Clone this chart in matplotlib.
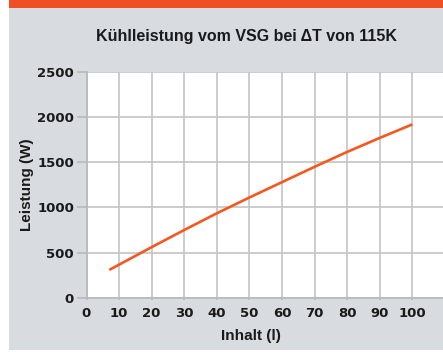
import matplotlib.pyplot as plt
from matplotlib.patches import Rectangle

# Kühlleistung über Inhalt
inhalt = [7, 10, 20, 30, 40, 50, 60, 70, 80, 90, 100]
leistung = [308, 366, 560, 750, 935, 1110, 1280, 1450, 1615, 1770, 1920]
x_ticks = [0, 10, 20, 30, 40, 50, 60, 70, 80, 90, 100]
y_ticks = [0, 500, 1000, 1500, 2000, 2500]

plt.rcParams['font.family'] = ['Liberation Sans', 'DejaVu Sans']
plt.rcParams['font.weight'] = 'bold'

W, H = 443, 352
fig = plt.figure(figsize=(W / 100, H / 100), dpi=100, facecolor='white')

# grauer Hintergrund und orangener Balken oben
fig.patches.append(Rectangle((9 / W, 2 / H), 1 - 9 / W, 343 / H, transform=fig.transFigure,
                             facecolor='#d8dce0', edgecolor='none', zorder=-5))
fig.patches.append(Rectangle((9 / W, 1 - 7.5 / H), 1 - 9 / W, 7.5 / H, transform=fig.transFigure,
                             facecolor='#f04e23', edgecolor='none', zorder=-5))

ax = fig.add_axes([86.5 / W, 54.3 / H, 1 - 86.5 / W, (297.7 - 72) / H], zorder=2)
ax.set_facecolor('white')
ax.plot(inhalt, leistung, color='#f4581e', linewidth=1.9, zorder=3, solid_capstyle='butt')

ax.set_xlim(0, 109.4)
ax.set_ylim(0, 2500)
ax.set_xticks(x_ticks)
ax.set_yticks(y_ticks)
ax.tick_params(axis='both', labelsize=9.5, colors='#b8b8b8', labelcolor='#1a1a1a', width=1.2)
ax.tick_params(axis='y', length=7, pad=2)
ax.tick_params(axis='x', length=1.5, pad=5)
for lbl in ax.get_xticklabels() + ax.get_yticklabels():
    lbl.set_fontfamily('DejaVu Sans')
ax.grid(True, color='#c4c4c4', linewidth=1.2)
ax.set_axisbelow(True)
for side in ['top', 'right']:
    ax.spines[side].set_visible(False)
for side in ['left', 'bottom']:
    ax.spines[side].set_color('#b8b8b8')
    ax.spines[side].set_linewidth(1.2)

ax.set_ylabel('Leistung (W)', fontsize=11, fontweight='bold', color='#1a1a1a')
ax.yaxis.set_label_coords((27 - 86.5) / (W - 86.5), 0.5)
ax.yaxis.label.set_verticalalignment('center')
ax.set_xlabel('Inhalt (l)', fontsize=11, fontweight='bold', color='#1a1a1a')
ax.xaxis.set_label_coords((251 - 86.5) / (W - 86.5), -(336 - 297.7) / (297.7 - 72))
ax.xaxis.label.set_verticalalignment('center')

fig.text(247 / W, 1 - 37 / H, 'Kühlleistung vom VSG bei ΔT von 115K', ha='center', va='center',
         fontsize=11.5, fontweight='bold', color='#1a1a1a')

fig.savefig('out.png', dpi=100, facecolor='white')
